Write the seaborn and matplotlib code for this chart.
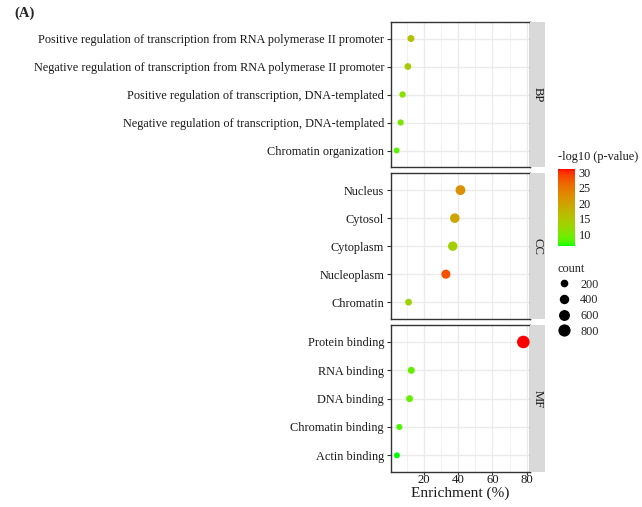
import numpy as np
import pandas as pd
import matplotlib
matplotlib.use("Agg")
import matplotlib.pyplot as plt
import seaborn as sns
from matplotlib.colors import ListedColormap, Normalize
from matplotlib.cm import ScalarMappable
from matplotlib.lines import Line2D

# ---------------- data ----------------
bp_terms = ["Positive regulation of transcription from RNA polymerase II promoter",
            "Negative regulation of transcription from RNA polymerase II promoter",
            "Positive regulation of transcription, DNA-templated",
            "Negative regulation of transcription, DNA-templated",
            "Chromatin organization"]
bp_enrich = [12.4, 10.6, 7.5, 6.4, 4.0]
bp_count = [137, 118, 83, 70, 44]
bp_logp = [15.5, 14.5, 11.0, 10.0, 8.0]

cc_terms = ["Nucleus", "Cytosol", "Cytoplasm", "Nucleoplasm", "Chromatin"]
cc_enrich = [41.3, 38.0, 36.8, 32.8, 11.0]
cc_count = [455, 418, 405, 361, 121]
cc_logp = [22.0, 19.5, 13.5, 28.0, 13.0]

mf_terms = ["Protein binding", "RNA binding", "DNA binding", "Chromatin binding", "Actin binding"]
mf_enrich = [78.0, 12.6, 11.6, 5.6, 4.2]
mf_count = [860, 139, 128, 62, 46]
mf_logp = [31.0, 8.5, 8.5, 7.5, 6.2]

facets = ["BP", "CC", "MF"]
x_ticks = [20, 40, 60, 80]
cbar_ticks = [10, 15, 20, 25, 30]
size_ticks = [200, 400, 600, 800]

# ---------------- colour scale (Lab interpolation green -> red) ----------------
def _srgb_to_lin(c):
    c = np.asarray(c, float)
    return np.where(c <= 0.04045, c / 12.92, ((c + 0.055) / 1.055) ** 2.4)

def _lin_to_srgb(c):
    c = np.clip(c, 0, 1)
    return np.where(c <= 0.0031308, 12.92 * c, 1.055 * c ** (1 / 2.4) - 0.055)

M = np.array([[0.4124, 0.3576, 0.1805], [0.2126, 0.7152, 0.0722], [0.0193, 0.1192, 0.9505]])
Minv = np.linalg.inv(M)
WP = np.array([0.95047, 1.0, 1.08883])

def rgb2lab(rgb):
    xyz = M @ _srgb_to_lin(rgb) / WP
    f = np.where(xyz > (6 / 29) ** 3, np.cbrt(xyz), xyz / (3 * (6 / 29) ** 2) + 4 / 29)
    return np.array([116 * f[1] - 16, 500 * (f[0] - f[1]), 200 * (f[1] - f[2])])

def lab2rgb(lab):
    L, a, b = lab
    fy = (L + 16) / 116
    fx = fy + a / 500
    fz = fy - b / 200
    f = np.array([fx, fy, fz])
    xyz = np.where(f > 6 / 29, f ** 3, 3 * (6 / 29) ** 2 * (f - 4 / 29)) * WP
    return np.clip(_lin_to_srgb(Minv @ xyz), 0, 1)

lo, hi = rgb2lab([0, 1, 0]), rgb2lab([1, 0, 0])
cmap = ListedColormap([lab2rgb(lo + t * (hi - lo)) for t in np.linspace(0, 1, 256)])
all_logp = bp_logp + cc_logp + mf_logp
norm = Normalize(min(all_logp), max(all_logp))

all_count = bp_count + cc_count + mf_count
size_norm = (min(all_count), max(all_count))
size_range = (18, 82)

def size_of(c):
    return size_range[0] + (c - size_norm[0]) / (size_norm[1] - size_norm[0]) * (size_range[1] - size_range[0])

# ---------------- figure ----------------
sns.set_style("white")
serif = ["Liberation Serif", "DejaVu Serif"]
plt.rcParams["font.family"] = serif
W, H = 642, 507
fig = plt.figure(figsize=(W / 100, H / 100), dpi=100)

left, right = 391, 530
panels = [(21.7, 167.3), (173.3, 319.0), (325.0, 472.3)]
datasets = [(bp_terms, bp_enrich, bp_count, bp_logp),
            (cc_terms, cc_enrich, cc_count, cc_logp),
            (mf_terms, mf_enrich, mf_count, mf_logp)]
edge = "#333333"
fs = 8.8

for i, ((top, bot), (terms, enr, cnt, lp), lab) in enumerate(zip(panels, datasets, facets)):
    ax = fig.add_axes([left / W, 1 - bot / H, (right - left) / W, (bot - top) / H])
    df = pd.DataFrame({"term": terms, "enrich": enr, "count": cnt, "logp": lp})
    sns.scatterplot(data=df, x="enrich", y="term", hue="logp", size="count",
                    palette=cmap, hue_norm=norm, sizes=size_range, size_norm=size_norm,
                    legend=False, linewidth=0, ax=ax, zorder=3)
    ax.set_ylim(4.6, -0.6)
    ax.set_xlim(0.75, 81.9)
    ax.set_xticks(x_ticks)
    ax.set_xticks([10, 30, 50, 70], minor=True)
    ax.grid(which="major", color="#EBEBEB", lw=1.0)
    ax.grid(which="minor", axis="x", color="#EBEBEB", lw=0.5)
    ax.set_axisbelow(True)
    for s in ax.spines.values():
        s.set_color(edge)
        s.set_linewidth(1.0)
    ax.set_ylabel("")
    ax.tick_params(axis="y", length=3, width=0.8, color=edge, labelsize=fs, pad=2,
                   labelcolor="#1a1a1a", left=True)
    ax.tick_params(axis="x", which="minor", length=0)
    if i < 2:
        ax.tick_params(axis="x", which="major", length=0, labelbottom=False)
        ax.set_xlabel("")
    else:
        ax.tick_params(axis="x", which="major", length=2.5, width=0.8, color=edge,
                       labelsize=fs + 0.4, pad=-1.2, labelcolor="#1a1a1a", bottom=True)
        ax.set_xlabel("Enrichment (%)", fontsize=11, labelpad=0.3, color="#1a1a1a")
    for t in ax.get_yticklabels():
        t.set_fontfamily(serif)
    # strip
    sax = fig.add_axes([right / W, 1 - bot / H, 15 / W, (bot - top) / H])
    sax.set_facecolor("#D9D9D9")
    sax.set_xticks([])
    sax.set_yticks([])
    for s in sax.spines.values():
        s.set_visible(False)
    sax.text(0.5, 0.5, lab, rotation=-90, ha="center", va="center", fontsize=fs + 0.4,
             color="#1a1a1a", transform=sax.transAxes)

# colour bar
cax = fig.add_axes([558 / W, 1 - 246 / H, 17 / W, 77 / H])
cb = fig.colorbar(ScalarMappable(norm=norm, cmap=cmap), cax=cax)
cb.outline.set_visible(False)
cb.set_ticks(cbar_ticks)
cax.tick_params(axis="y", direction="in", length=3.5, width=0.8, color="white",
                left=True, right=True, labelsize=fs, pad=2.5, labelcolor="#1a1a1a")
fig.text(558 / W, 1 - 157 / H, "-log10 (p-value)", fontsize=fs, va="center", ha="left",
         color="#1a1a1a")

# size legend
handles = [Line2D([], [], marker="o", ls="", color="black", markeredgewidth=0,
                  markersize=np.sqrt(size_of(c))) for c in size_ticks]
leg = fig.legend(handles, [str(c) for c in size_ticks], title="count", loc="upper left",
                 bbox_to_anchor=(557 / W, 1 - 263 / H), frameon=False, fontsize=fs,
                 title_fontsize=fs, handletextpad=0.7, labelspacing=0.3,
                 handlelength=1.2, borderaxespad=0, borderpad=0)
leg._legend_box.align = "left"

fig.text(14 / W, 1 - 13 / H, "(A)", fontsize=10.5, fontweight="bold", va="center", ha="left")

fig.savefig("out.png", dpi=100)
